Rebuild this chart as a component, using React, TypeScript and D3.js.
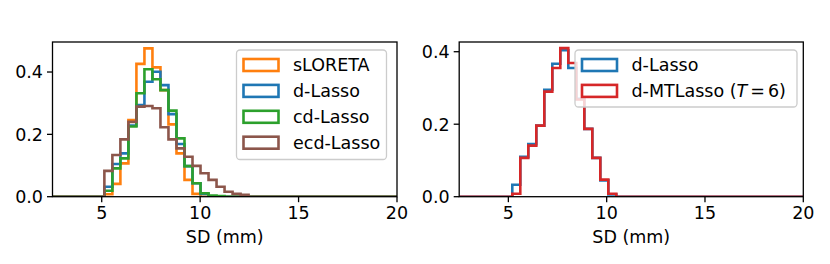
import React from "react";
import * as d3 from "d3";

// histogram densities (bin width ~0.41 mm)
const binWidth = 0.407;
const leftBinStart = 5.135;
const rightBinStart = 5.2;

const sloreta = [0.008, 0.041, 0.107, 0.246, 0.426, 0.476, 0.415, 0.342, 0.232, 0.139, 0.054, 0.009];
const dLasso = [0.032, 0.105, 0.139, 0.228, 0.294, 0.369, 0.401, 0.358, 0.265, 0.169, 0.098, 0.043, 0.009];
const cdLasso = [0.019, 0.091, 0.123, 0.225, 0.332, 0.409, 0.377, 0.342, 0.276, 0.187, 0.098, 0.043, 0.011, 0.004, 0.002];
const ecdLasso = [0.083, 0.134, 0.184, 0.24, 0.289, 0.291, 0.284, 0.223, 0.184, 0.155, 0.128, 0.099, 0.075, 0.054, 0.032, 0.016, 0.009, 0.006];

const dLassoRight = [0.033, 0.11, 0.145, 0.196, 0.295, 0.367, 0.404, 0.355, 0.27, 0.187, 0.107, 0.045, 0.006];
const dMTLasso = [0.008, 0.107, 0.141, 0.196, 0.29, 0.355, 0.41, 0.369, 0.268, 0.187, 0.107, 0.047, 0.008];

const xDomain: [number, number] = [2.5, 20];
const xTicks = [5, 10, 15, 20];
const yTicks = [0, 0.2, 0.4];
const xLabel = "SD (mm)";

const FONT = "DejaVu Sans, sans-serif";
const FS = 17.5;

interface Series {
  label: string;
  color: string;
  start: number;
  values: number[];
}

const leftSeries: Series[] = [
  { label: "sLORETA", color: "#ff7f0e", start: leftBinStart, values: sloreta },
  { label: "d-Lasso", color: "#1f77b4", start: leftBinStart, values: dLasso },
  { label: "cd-Lasso", color: "#2ca02c", start: leftBinStart, values: cdLasso },
  { label: "ecd-Lasso", color: "#8c564b", start: leftBinStart, values: ecdLasso },
];

const rightSeries: Series[] = [
  { label: "d-Lasso", color: "#1f77b4", start: rightBinStart, values: dLassoRight },
  { label: "d-MTLasso", color: "#d62728", start: rightBinStart, values: dMTLasso },
];

function stepPoints(s: Series): [number, number][] {
  const pts: [number, number][] = [
    [xDomain[0], 0],
    [s.start, 0],
  ];
  s.values.forEach((v, i) => {
    const a = s.start + i * binWidth;
    pts.push([a, v], [a + binWidth, v]);
  });
  pts.push([s.start + s.values.length * binWidth, 0], [xDomain[1], 0]);
  return pts;
}

function renderLabel(label: string) {
  if (label === "d-MTLasso") {
    // mathtext "(T=6)" with tight spacing
    return (
      <>
        {"d-MTLasso ("}
        <tspan fontStyle="italic">T</tspan>
        <tspan dx={3}>=</tspan>
        <tspan dx={3}>6)</tspan>
      </>
    );
  }
  return label;
}

interface PanelProps {
  id: string;
  left: number;
  right: number;
  top: number;
  bottom: number;
  yMax: number;
  series: Series[];
  legend: { x: number; y: number; w: number; h: number; rowY0: number };
}

const Panel: React.FC<PanelProps> = ({ id, left, right, top, bottom, yMax, series, legend }) => {
  const x = d3.scaleLinear().domain(xDomain).range([left, right]);
  const y = d3.scaleLinear().domain([0, yMax]).range([bottom, top]);
  const line = d3
    .line<[number, number]>()
    .x((d) => x(d[0]))
    .y((d) => y(d[1]));
  const rowStep = 25.9;

  return (
    <g>
      <defs>
        <clipPath id={`clip-${id}`}>
          <rect x={left} y={top} width={right - left} height={bottom - top} />
        </clipPath>
      </defs>
      <g clipPath={`url(#clip-${id})`}>
        {series.map((s) => (
          <path
            key={s.label}
            d={line(stepPoints(s)) ?? ""}
            fill="none"
            stroke={s.color}
            strokeWidth={2.6}
            strokeLinejoin="miter"
          />
        ))}
      </g>
      <rect x={left} y={top} width={right - left} height={bottom - top} fill="none" stroke="#000" strokeWidth={1.3} />
      {xTicks.map((t) => (
        <g key={`x${t}`}>
          <line x1={x(t)} x2={x(t)} y1={bottom} y2={bottom + 5.5} stroke="#000" strokeWidth={1.3} />
          <text x={x(t)} y={bottom + 22.5} textAnchor="middle" fontFamily={FONT} fontSize={FS}>
            {t}
          </text>
        </g>
      ))}
      {yTicks.map((t) => (
        <g key={`y${t}`}>
          <line x1={left - 5.5} x2={left} y1={y(t)} y2={y(t)} stroke="#000" strokeWidth={1.3} />
          <text x={left - 9.5} y={y(t) + 6.4} textAnchor="end" fontFamily={FONT} fontSize={FS}>
            {t.toFixed(1)}
          </text>
        </g>
      ))}
      <text x={(left + right) / 2} y={bottom + 46.5} textAnchor="middle" fontFamily={FONT} fontSize={FS}>
        {xLabel}
      </text>
      <g>
        <rect
          x={legend.x}
          y={legend.y}
          width={legend.w}
          height={legend.h}
          rx={3.5}
          fill="#fff"
          fillOpacity={0.8}
          stroke="#cccccc"
          strokeWidth={1.3}
        />
        {series.map((s, i) => {
          const cy = legend.rowY0 + i * rowStep;
          return (
            <g key={`leg${s.label}`}>
              <rect x={legend.x + 7} y={cy - 6} width={35} height={12} fill="none" stroke={s.color} strokeWidth={2.6} />
              <text x={legend.x + 56.5} y={cy + 6.4} fontFamily={FONT} fontSize={FS}>
                {renderLabel(s.label)}
              </text>
            </g>
          );
        })}
      </g>
    </g>
  );
};

export default function App() {
  return (
    <svg
      width={830}
      height={264}
      style={{ position: "absolute", left: 0, top: 0, display: "block", background: "#fff" }}
    >
      <Panel
        id="l"
        left={52.5}
        right={397}
        top={42}
        bottom={196.7}
        yMax={0.4963}
        series={leftSeries}
        legend={{ x: 236.5, y: 50, w: 150, h: 109.5, rowY0: 65 }}
      />
      <Panel
        id="r"
        left={459.2}
        right={803.3}
        top={42}
        bottom={196.7}
        yMax={0.4268}
        series={rightSeries}
        legend={{ x: 575, y: 50, w: 222, h: 57, rowY0: 65 }}
      />
    </svg>
  );
}
